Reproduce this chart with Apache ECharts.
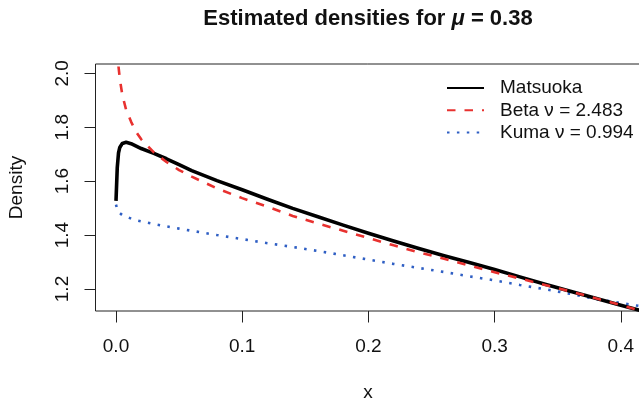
<!DOCTYPE html>
<html>
<head>
<meta charset="utf-8">
<script src="https://cdn.jsdelivr.net/npm/echarts@6/dist/echarts.min.js"></script>
<style>
html,body{margin:0;padding:0;background:#fff;}
#chart{width:639px;height:407px;}
</style>
</head>
<body>
<div id="chart"></div>
<script>
// ---- data ----
var xValues = [0, 0.001, 0.002, 0.003, 0.005, 0.008, 0.012, 0.016, 0.02, 0.03, 0.04, 0.05, 0.06, 0.08, 0.1, 0.12, 0.14, 0.16, 0.18, 0.2, 0.22, 0.24, 0.26, 0.28, 0.3, 0.32, 0.34, 0.36, 0.38, 0.4, 0.42];
var matsuoka = [1.527, 1.65, 1.705, 1.725, 1.740, 1.744, 1.739, 1.730, 1.721, 1.703, 1.683, 1.661, 1.639, 1.602, 1.568, 1.533, 1.499, 1.468, 1.437, 1.407, 1.378, 1.350, 1.323, 1.298, 1.272, 1.245, 1.218, 1.192, 1.166, 1.140, 1.114];
var beta = [null, 2.09, 2.025, 1.98, 1.92, 1.865, 1.82, 1.782, 1.755, 1.707, 1.671, 1.641, 1.617, 1.573, 1.537, 1.505, 1.471, 1.443, 1.416, 1.389, 1.362, 1.336, 1.312, 1.287, 1.262, 1.239, 1.215, 1.191, 1.166, 1.140, 1.114];
var kuma = [1.513, 1.495, 1.485, 1.479, 1.474, 1.469, 1.461, 1.455, 1.451, 1.441, 1.432, 1.424, 1.416, 1.400, 1.385, 1.370, 1.356, 1.341, 1.325, 1.309, 1.293, 1.278, 1.263, 1.247, 1.232, 1.215, 1.199, 1.182, 1.163, 1.148, 1.133];
var xTicks = [0, 0.1, 0.2, 0.3, 0.4];
var yTicks = [1.2, 1.4, 1.6, 1.8, 2.0];
var seriesNames = ['Matsuoka', 'Beta \u03bd = 2.483', 'Kuma \u03bd = 0.994'];

function pairs(xs, ys) {
  var out = [];
  for (var i = 0; i < xs.length; i++) {
    if (ys[i] !== null) out.push([xs[i], ys[i]]);
  }
  return out;
}

var FONT = '"Liberation Sans", Arial, Helvetica, sans-serif';
var chart = echarts.init(document.getElementById('chart'), null, {renderer: 'canvas'});
var option = {
  animation: false,
  backgroundColor: '#ffffff',
  textStyle: {fontFamily: FONT},
  grid: {
    left: 95.5, top: 64, width: 545.8, height: 247,
    show: true, borderColor: '#222', borderWidth: 1, backgroundColor: 'transparent',
    outerBoundsMode: 'none', containLabel: false
  },
  xAxis: {
    type: 'value', min: -0.01624, max: 0.41624,
    axisLine: {show: false, onZero: false},
    splitLine: {show: false},
    axisTick: {show: true, inside: false, customValues: xTicks, length: 11.5, lineStyle: {color: '#222', width: 1}},
    axisLabel: {show: true, customValues: xTicks, margin: 26.5, fontSize: 19, color: '#111', fontFamily: FONT,
      formatter: function (v) { return v.toFixed(1); }}
  },
  yAxis: {
    type: 'value', min: 1.1184, max: 2.0345,
    axisLine: {show: false, onZero: false},
    splitLine: {show: false},
    axisTick: {show: true, inside: false, customValues: yTicks, length: 11, lineStyle: {color: '#222', width: 1}},
    axisLabel: {show: true, customValues: yTicks, rotate: 90, margin: 23, fontSize: 19, color: '#111', fontFamily: FONT,
      formatter: function (v) { return v.toFixed(1); }}
  },
  legend: {
    orient: 'vertical', left: 441, top: 73.5, padding: 5,
    itemWidth: 37, itemHeight: 14, itemGap: 3.3,
    itemStyle: {opacity: 0},
    textStyle: {fontSize: 19, color: '#111', fontFamily: FONT, padding: [0, 0, 0, 11], lineHeight: 19},
    data: seriesNames
  },
  graphic: [
    {type: 'text', x: 368, y: 19, style: {
      text: '{b|Estimated densities for }{i|\u03bc}{b| = 0.38}',
      align: 'center', verticalAlign: 'middle',
      rich: {
        b: {fontSize: 22, fontWeight: 'bold', fontFamily: FONT, fill: '#111'},
        i: {fontSize: 22, fontWeight: 'bold', fontStyle: 'italic', fontFamily: FONT, fill: '#111'}
      }
    }},
    {type: 'text', x: 368, y: 393, style: {text: 'x', fontSize: 19, fontFamily: FONT, fill: '#111', align: 'center', verticalAlign: 'middle'}},
    {type: 'text', x: 17, y: 187.5, rotation: Math.PI / 2, style: {text: 'Density', fontSize: 19, fontFamily: FONT, fill: '#111', align: 'center', verticalAlign: 'middle'}}
  ],
  series: [
    {name: seriesNames[0], type: 'line', data: pairs(xValues, matsuoka), symbol: 'none', clip: true,
      lineStyle: {color: '#000', width: 3.6, cap: 'butt', join: 'round'}, itemStyle: {color: '#000'}, z: 3},
    {name: seriesNames[1], type: 'line', data: pairs(xValues, beta), symbol: 'none', clip: true,
      lineStyle: {color: '#E8312F', width: 2.6, type: [8.5, 9], cap: 'butt'}, itemStyle: {color: '#E8312F'}, z: 4},
    {name: seriesNames[2], type: 'line', data: pairs(xValues, kuma), symbol: 'none', clip: true,
      lineStyle: {color: '#2F5FC4', width: 2.6, type: [2.5, 7.4], cap: 'butt'}, itemStyle: {color: '#2F5FC4'}, z: 2}
  ]
};
chart.setOption(option);
</script>
</body>
</html>
